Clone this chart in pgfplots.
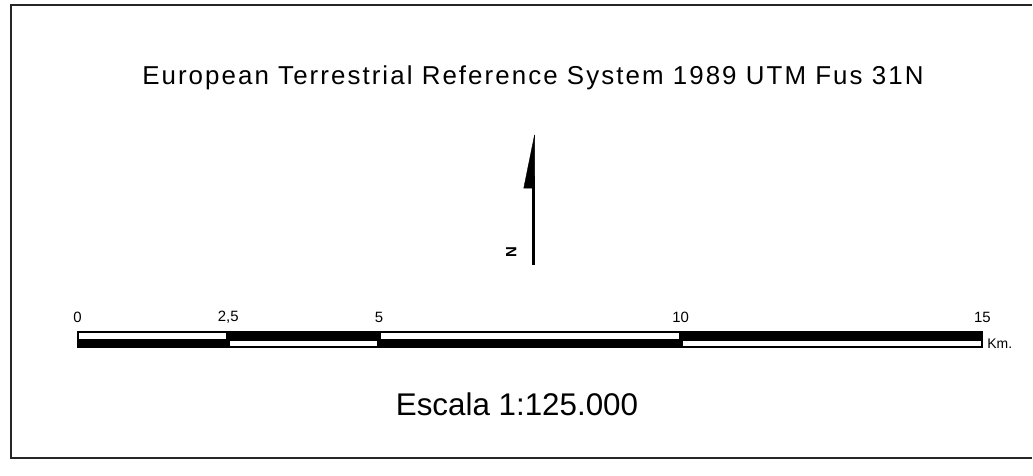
\documentclass[border=0pt]{standalone}
\usepackage{fontspec}
\setmainfont{Liberation Sans}
\usepackage{pgfplots}
\pgfplotsset{compat=1.18}
\begin{document}
\begin{tikzpicture}
\begin{axis}[width=1033bp, height=476bp, scale only axis,
  xmin=-1.2834, xmax=15.8223, ymin=0, ymax=476,
  hide axis, clip=false]
\path (rel axis cs:0,0) rectangle (rel axis cs:1,1);
% frame
\addplot[draw=black!85, line width=2bp] coordinates {(15.8223,471) (-1.093,471) (-1.093,18) (15.8223,18)};
% scale bar: black base
\addplot[fill=black, draw=black, line width=1.2bp] coordinates {(0,128.5) (15,128.5) (15,144.5) (0,144.5)} -- cycle;
% upper white segments
\addplot[fill=white, draw=none] coordinates {(0.03,136.7) (2.47,136.7) (2.47,142.7) (0.03,142.7)} -- cycle;
\addplot[fill=white, draw=none] coordinates {(5.03,136.7) (9.97,136.7) (9.97,142.7) (5.03,142.7)} -- cycle;
% lower white segments
\addplot[fill=white, draw=none] coordinates {(2.53,129.8) (4.97,129.8) (4.97,134.3) (2.53,134.3)} -- cycle;
\addplot[fill=white, draw=none] coordinates {(10.03,129.8) (14.97,129.8) (14.97,134.3) (10.03,134.3)} -- cycle;
% north arrow
\addplot[draw=black, line width=2.6bp] coordinates {(7.555,211) (7.555,300)};
\addplot[fill=black, draw=black, line width=0.4bp] coordinates {(7.577,341) (7.398,287.7) (7.577,287.7)} -- cycle;
\node[rotate=90, font=\fontsize{15}{17}\selectfont\bfseries] at (axis cs:7.19,224) {N};
% tick labels
\node[font=\fontsize{15}{17}\selectfont] at (axis cs:0,158.5) {0};
\node[font=\fontsize{15}{17}\selectfont] at (axis cs:2.5,158.5) {2,5};
\node[font=\fontsize{15}{17}\selectfont] at (axis cs:5,158.5) {5};
\node[font=\fontsize{15}{17}\selectfont] at (axis cs:10,158.5) {10};
\node[font=\fontsize{15}{17}\selectfont] at (axis cs:15,158.5) {15};
\node[anchor=west, font=\fontsize{14}{16}\selectfont, inner sep=0pt] at (axis cs:15.08,131.5) {Km.};
% titles
\node[font=\fontsize{26}{30}\selectfont\addfontfeature{LetterSpace=8}] at (axis cs:7.55,398) {European Terrestrial Reference System 1989 UTM Fus 31N};
\node[font=\fontsize{31.5}{36}\selectfont] at (axis cs:7.286,71) {Escala 1:125.000};
\end{axis}
\end{tikzpicture}
\end{document}
